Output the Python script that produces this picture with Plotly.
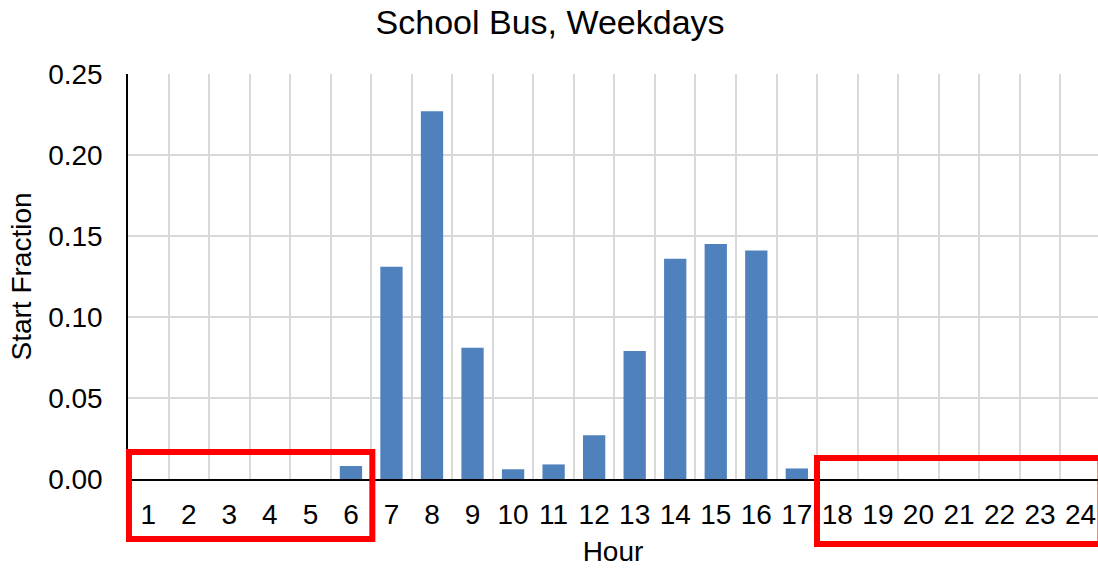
import plotly.graph_objects as go

hours = list(range(1, 25))
hour_labels = [str(h) for h in hours]
start_fraction = [0, 0, 0, 0, 0, 0.008, 0.131, 0.227, 0.081, 0.006, 0.009, 0.027,
                  0.079, 0.136, 0.145, 0.141, 0.0065, 0, 0, 0, 0, 0, 0, 0]

title_text = "School Bus, Weekdays"
x_title = "Hour"
y_title = "Start Fraction"

FONT = "Arial, 'Liberation Sans', sans-serif"
GRID = "#d9d9d9"

fig = go.Figure()
fig.add_trace(go.Bar(x=hours, y=start_fraction, width=0.55,
                     marker=dict(color="#4F81BD", line=dict(width=0))))

fig.update_layout(
    width=1098, height=569,
    margin=dict(l=128, r=0, t=74, b=90),
    paper_bgcolor="white", plot_bgcolor="white",
    font=dict(family=FONT, size=28, color="#000000"),
    title=dict(text=title_text, x=0.501, xanchor="center", xref="container",
               y=0.962, yanchor="middle", font=dict(size=34)),
    showlegend=False,
    xaxis=dict(
        range=[0.5, 24.43], tickmode="array", tickvals=hours, ticktext=hour_labels,
        showgrid=False, showline=True, linecolor="black", linewidth=1.5,
        ticks="", ticklabelstandoff=10,
        minor=dict(tick0=0.5, dtick=1, showgrid=True, gridcolor=GRID, gridwidth=1.5, ticks=""),
        title=dict(text=x_title, standoff=12, font=dict(size=28)),
        zeroline=False,
    ),
    yaxis=dict(
        range=[0, 0.25], dtick=0.05, tickformat=".2f",
        showgrid=True, gridcolor=GRID, gridwidth=1.5,
        showline=True, linecolor="black", linewidth=1.5,
        ticks="", ticklabelstandoff=18,
        title=dict(text=y_title, standoff=8, font=dict(size=28)),
        zeroline=False,
    ),
)

# red highlight boxes (annotation layer)
fig.add_shape(type="rect", xref="paper", yref="paper",
              x0=0.001, x1=0.2519, y0=-0.148, y1=0.0667,
              line=dict(color="#ff0000", width=6), fillcolor="rgba(0,0,0,0)", layer="above")
fig.add_shape(type="rect", xref="paper", yref="paper",
              x0=0.7103, x1=1.0026, y0=-0.1605, y1=0.0519,
              line=dict(color="#ff0000", width=6), fillcolor="rgba(0,0,0,0)", layer="above")

# remove the browser's default 8px body margin so the figure fills the window
fig.write_html("out.html",
               config={"displayModeBar": False},
               post_script="document.body.style.margin='0';document.body.style.overflow='hidden';")
